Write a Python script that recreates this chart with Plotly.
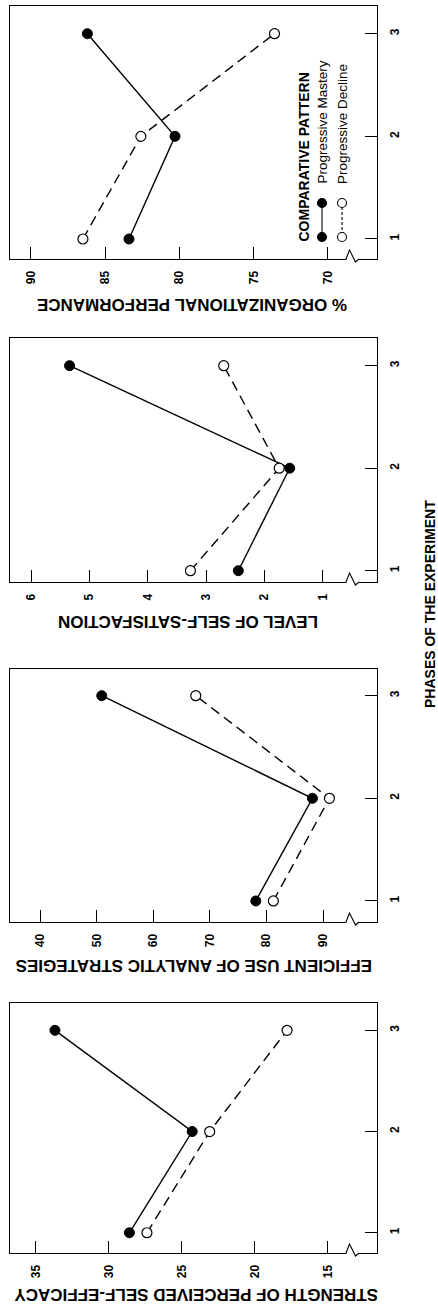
import plotly.graph_objects as go

W, H = 438, 1310

# ---------------- data ----------------
phases = [1, 2, 3]
phase_labels = ["1", "2", "3"]

performance_mastery = [83.4, 80.3, 86.2]
performance_decline = [86.5, 82.6, 73.6]
performance_ticks = [90, 85, 80, 75, 70]

satisfaction_mastery = [2.45, 1.57, 5.34]
satisfaction_decline = [3.27, 1.75, 2.70]
satisfaction_ticks = [6, 5, 4, 3, 2, 1]

analytic_mastery = [78.1, 88.1, 50.9]
analytic_decline = [81.2, 91.1, 67.5]
analytic_ticks = [40, 50, 60, 70, 80, 90]

efficacy_mastery = [28.6, 24.3, 33.7]
efficacy_decline = [27.4, 23.1, 17.8]
efficacy_ticks = [35, 30, 25, 20, 15]

panel_titles = [
    "% ORGANIZATIONAL PERFORMANCE",
    "LEVEL OF SELF-SATISFACTION",
    "EFFICIENT USE OF ANALYTIC STRATEGIES",
    "STRENGTH OF PERCEIVED SELF-EFFICACY",
]
series_names = ["Progressive Mastery", "Progressive Decline"]
legend_title = "COMPARATIVE PATTERN"
phase_title = "PHASES OF THE EXPERIMENT"

# ---------------- layout helpers ----------------
def px(x):
    return x / W

def py(y):
    return 1 - y / H

FONT = "Liberation Sans, Arial, Helvetica, sans-serif"

panels = [
    dict(m=performance_mastery, d=performance_decline, ticks=performance_ticks,
         top=6, bottom=259, xr=[91.41, 66.7], yr=[0.805, 3.27], title_y=304, title_x=192),
    dict(m=satisfaction_mastery, d=satisfaction_decline, ticks=satisfaction_ticks,
         top=338, bottom=582, xr=[6.36, 0.075], yr=[0.89, 3.27], title_y=622, title_x=188),
    dict(m=analytic_mastery, d=analytic_decline, ticks=analytic_ticks,
         top=669, bottom=922, xr=[34.7, 99.5], yr=[0.795, 3.26], title_y=965, title_x=194),
    dict(m=efficacy_mastery, d=efficacy_decline, ticks=efficacy_ticks,
         top=1003, bottom=1253, xr=[36.78, 11.64], yr=[0.80, 3.27], title_y=1295, title_x=196),
]

LEFT, RIGHT = 10, 377

fig = go.Figure()
shapes = []
annotations = []

for i, p in enumerate(panels):
    n = i + 1
    xa = "x" if n == 1 else f"x{n}"
    ya = "y" if n == 1 else f"y{n}"
    # mastery: solid line, filled markers
    fig.add_trace(go.Scatter(
        x=p["m"], y=phases, xaxis=xa, yaxis=ya, mode="lines+markers",
        line=dict(color="black", width=1.4),
        marker=dict(symbol="circle", size=10, color="black", line=dict(color="black", width=1)),
        showlegend=False, name=series_names[0], cliponaxis=False,
    ))
    # decline: dashed line, open markers
    fig.add_trace(go.Scatter(
        x=p["d"], y=phases, xaxis=xa, yaxis=ya, mode="lines+markers",
        line=dict(color="black", width=1.4, dash="10px,6px"),
        marker=dict(symbol="circle", size=10, color="white", line=dict(color="black", width=1.2)),
        showlegend=False, name=series_names[1], cliponaxis=False,
    ))

    xkey = "xaxis" if n == 1 else f"xaxis{n}"
    ykey = "yaxis" if n == 1 else f"yaxis{n}"
    fig.layout[xkey] = dict(
        domain=[px(LEFT), px(RIGHT)], anchor=ya, range=p["xr"],
        tickvals=p["ticks"], ticktext=[str(t) for t in p["ticks"]],
        ticks="inside", ticklen=12, tickwidth=1.2, tickcolor="black",
        tickangle=-90, tickfont=dict(family=FONT, size=12, color="black", weight="bold"),
        ticklabelstandoff=6,
        showline=True, linecolor="black", linewidth=1.2, mirror=True,
        showgrid=False, zeroline=False, fixedrange=True,
    )
    fig.layout[ykey] = dict(
        domain=[py(p["bottom"]), py(p["top"])], anchor=xa, range=p["yr"], side="right",
        tickvals=phases, ticktext=phase_labels,
        ticks="inside", ticklen=12, tickwidth=1.2, tickcolor="black",
        tickangle=-90, tickfont=dict(family=FONT, size=12, color="black", weight="bold"),
        ticklabelstandoff=6,
        showline=True, linecolor="black", linewidth=1.2, mirror=True,
        showgrid=False, zeroline=False, fixedrange=True,
    )

    # axis break on the value axis
    b = p["bottom"]
    shapes.append(dict(type="rect", xref="paper", yref="paper",
                       x0=px(346.5), x1=px(358.5), y0=py(b + 2), y1=py(b - 2),
                       fillcolor="white", line=dict(width=0), layer="above"))
    shapes.append(dict(type="path", xref="paper", yref="paper",
                       path=f"M {px(346)},{py(b)} L {px(349.5)},{py(b - 9)} L {px(355.5)},{py(b + 3)} L {px(359)},{py(b)}",
                       line=dict(color="black", width=1.1), layer="above"))

    # panel title (upside down)
    annotations.append(dict(
        text=panel_titles[i], xref="paper", yref="paper",
        x=px(p["title_x"]), y=py(p["title_y"]), xanchor="center", yanchor="middle",
        textangle=180, showarrow=False,
        font=dict(family=FONT, size=17, color="black", weight="bold"),
    ))

# shared phase axis title
annotations.append(dict(
    text=phase_title, xref="paper", yref="paper",
    x=px(430), y=py(604), xanchor="center", yanchor="middle",
    textangle=-90, showarrow=False,
    font=dict(family=FONT, size=14, color="black", weight="bold"),
))

# legend (rotated, inside the top panel)
annotations.append(dict(
    text=legend_title, xref="paper", yref="paper",
    x=px(303), y=py(244), xanchor="center", yanchor="bottom",
    textangle=-90, showarrow=False,
    font=dict(family=FONT, size=14, color="black", weight="bold"),
))
for k, (name, cx) in enumerate(zip(series_names, [322, 342])):
    annotations.append(dict(
        text=name, xref="paper", yref="paper",
        x=px(cx), y=py(186), xanchor="center", yanchor="bottom",
        textangle=-90, showarrow=False,
        font=dict(family=FONT, size=13.5, color="black"),
    ))
    shapes.append(dict(type="line", xref="paper", yref="paper",
                       x0=px(cx), x1=px(cx), y0=py(207), y1=py(233),
                       line=dict(color="black", width=1.1, dash="solid" if k == 0 else "3px,2px"),
                       layer="above"))
    for cy in (203, 237):
        shapes.append(dict(type="circle", xref="paper", yref="paper",
                           x0=px(cx - 4.5), x1=px(cx + 4.5), y0=py(cy + 4.5), y1=py(cy - 4.5),
                           fillcolor="black" if k == 0 else "white",
                           line=dict(color="black", width=1.1), layer="above"))

fig.update_layout(
    width=W, height=H, autosize=False,
    margin=dict(l=0, r=0, t=0, b=0, pad=0),
    paper_bgcolor="white", plot_bgcolor="white",
    showlegend=False, shapes=shapes, annotations=annotations,
    font=dict(family=FONT, color="black"),
)

fig.write_html(
    "out.html",
    config={"displayModeBar": False},
    post_script="document.body.style.margin='0';document.body.style.overflow='hidden';",
)
